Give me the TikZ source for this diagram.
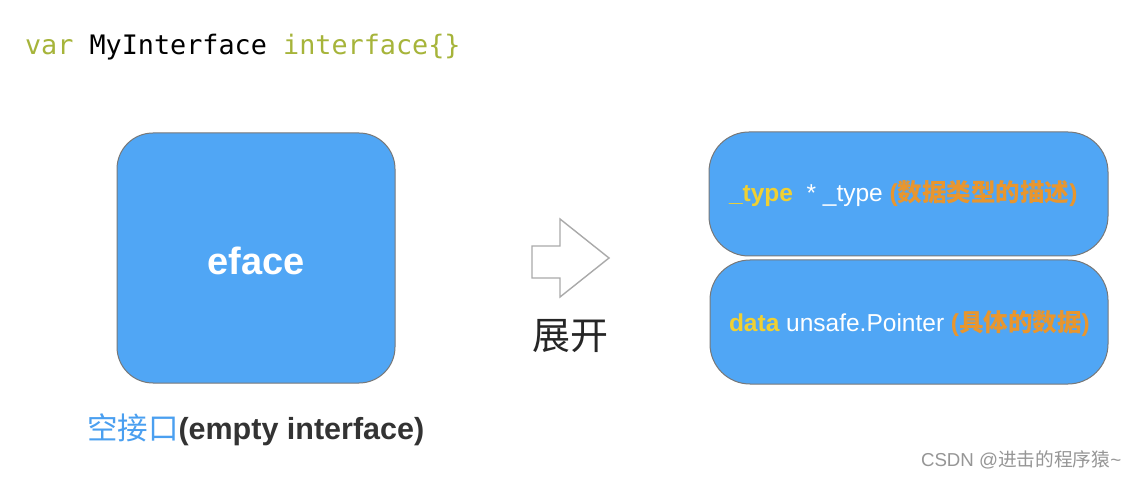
\documentclass[tikz,border=0pt]{standalone}
\usepackage{fontspec}
\setmainfont{Liberation Sans}
\setsansfont{Liberation Sans}
\setmonofont{DejaVu Sans Mono}
\newfontfamily\cjk{Noto Sans CJK SC}
\definecolor{boxblue}{RGB}{80,166,245}
\definecolor{boxedge}{RGB}{120,120,120}
\definecolor{kwgreen}{RGB}{166,180,58}
\definecolor{fldyellow}{RGB}{240,208,50}
\definecolor{noteorange}{RGB}{232,150,46}
\definecolor{lblblue}{RGB}{74,159,240}
\definecolor{lbldark}{RGB}{51,51,51}
\definecolor{arrowgray}{RGB}{170,170,170}
\definecolor{wmgray}{RGB}{150,150,150}
\tikzset{
  blockbox/.style={draw=boxedge, line width=1pt, fill=boxblue, rounded corners=#1},
  plain/.style={inner sep=0pt, outer sep=0pt},
}
\begin{document}
\begin{tikzpicture}[x=1pt,y=-1pt]
\useasboundingbox (0,0) rectangle (1138,478);
\fill[white] (0,0) rectangle (1138,478);

% code line
\node[plain, anchor=base west] (code) at (25,55)
  {\fontsize{26.8}{30}\selectfont\ttfamily\textcolor{kwgreen}{var}\ \textcolor{black}{MyInterface}\ \textcolor{kwgreen}{interface\{\}}};

% eface box
\draw[blockbox=36pt] (117,133) rectangle (395,383);
\node[plain, text=white, font=\fontsize{38}{42}\selectfont\bfseries] (eface) at (256,261) {eface};

% label under eface
\node[plain, anchor=base west] (lbl) at (87,439)
  {\fontsize{30.5}{34}\selectfont\textcolor{lblblue}{\cjk 空接口}\textcolor{lbldark}{\bfseries(empty interface)}};

% block arrow
\coordinate (a1) at (532,246);
\coordinate (a2) at (560,246);
\coordinate (a3) at (560,219);
\coordinate (tip) at (609,258);
\coordinate (a5) at (560,297);
\coordinate (a6) at (560,278);
\coordinate (a7) at (532,278);
\draw[arrowgray, line width=1.4pt, line join=miter] (a1) -- (a2) -- (a3) -- (tip) -- (a5) -- (a6) -- (a7) -- cycle;
\node[plain, text=black!85, font=\fontsize{38}{42}\selectfont\cjk] (expand) at (570,336) {展开};

% right boxes
\draw[blockbox=40pt] (709,132) rectangle (1108,256);
\draw[blockbox=40pt] (710,260) rectangle (1108,384);

\node[plain, anchor=base west] (typefield) at (729,202)
  {\fontsize{24.5}{28}\selectfont\textcolor{fldyellow}{\bfseries \_type}\ \ \textcolor{white}{*\ \_type}\ \textcolor{noteorange}{\bfseries(\cjk 数据类型的描述\rmfamily)}};
\node[plain, anchor=base west] (datafield) at (729,332)
  {\fontsize{24.5}{28}\selectfont\textcolor{fldyellow}{\bfseries data}\ \textcolor{white}{unsafe.Pointer}\ \textcolor{noteorange}{\bfseries(\cjk 具体的数据\rmfamily)}};

% watermark
\node[plain, anchor=base west, text=wmgray] (wm) at (921,466)
  {\fontsize{18.7}{22}\selectfont CSDN @\cjk 进击的程序猿\rmfamily\textasciitilde};
\end{tikzpicture}
\end{document}
